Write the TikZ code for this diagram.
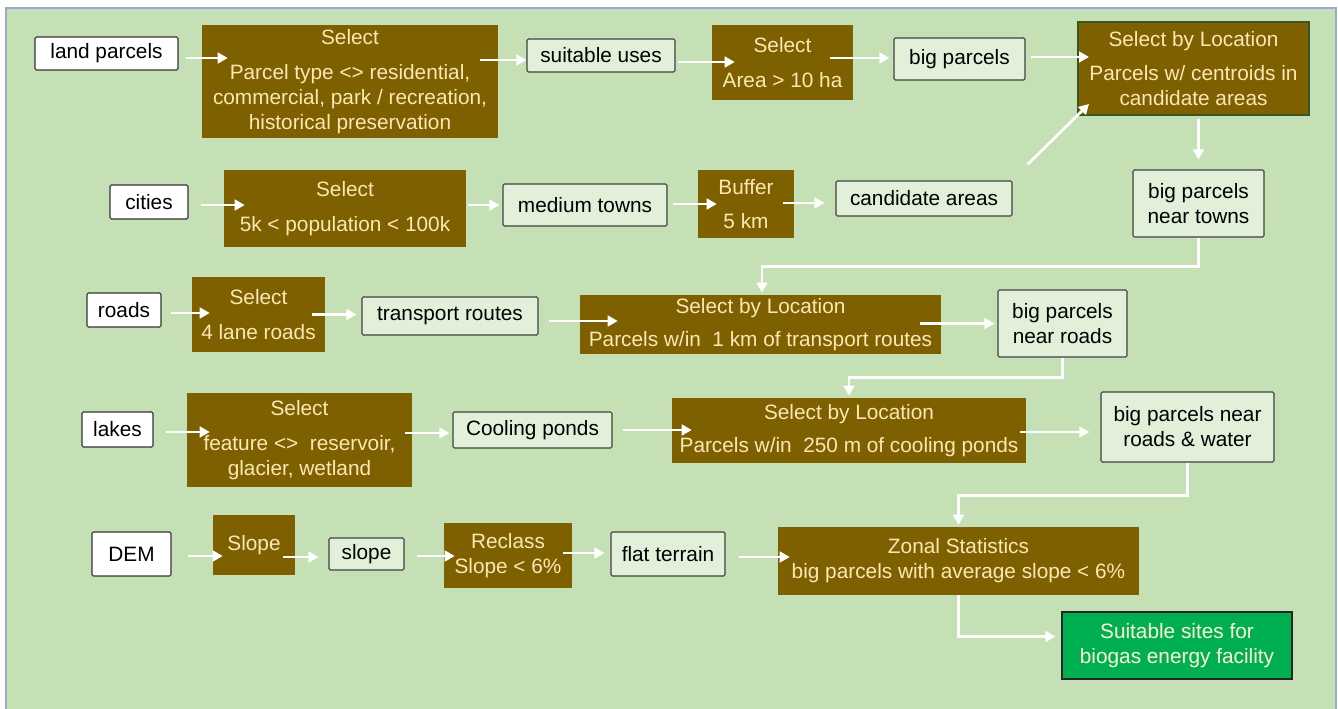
\documentclass[tikz,border=0pt]{standalone}
\usepackage{fontspec}
\setmainfont{Liberation Sans}
\usetikzlibrary{arrows.meta,calc}
\definecolor{bg}{RGB}{197,224,180}
\definecolor{brn}{RGB}{127,96,0}
\definecolor{cream}{RGB}{250,232,180}
\definecolor{lite}{RGB}{226,240,217}
\definecolor{grn}{RGB}{0,176,80}
\definecolor{dkg}{RGB}{55,86,35}
\definecolor{framec}{RGB}{150,172,205}
\newcommand\harr[5]{\draw[arr] ($(#1.east)+(#3,#5)$) -- ($(#2.west |- #1.east)+(#4,#5)$);}
\tikzset{
 wbox/.style={draw=black!80, fill=white, line width=0.8pt, rounded corners=1pt},
 lbox/.style={draw=black!75, fill=lite, line width=0.8pt, rounded corners=1pt},
 bbox/.style={fill=brn, text=cream},
 gbox/.style={draw=black!85, fill=grn, text=cream!50!white, line width=0.8pt},
 arr/.style={draw=white, line width=2pt, -{Triangle[length=7.5pt,width=8pt]}}
}
\begin{document}
\begin{tikzpicture}[x=0.75pt,y=-0.75pt,
 every node/.style={font=\fontsize{15.6}{18.8}\selectfont, inner sep=0pt, align=center}]
\useasboundingbox (0,0) rectangle (1338,709);
\fill[white] (0,0) rectangle (1338,709);
\fill[bg] (6,8) rectangle (1336,712);
\draw[framec, line width=1pt] (6,712) -- (6,8) -- (1336,8) -- (1336,712);

% row 1
\node[wbox, minimum width=107.25pt, minimum height=24.75pt] (lp) at (106.5,53.5) {land parcels};
\node[bbox, minimum width=222pt, minimum height=84.75pt] (s1) at (350,81.5) {Select\\[7pt]Parcel type <> residential,\\commercial, park / recreation,\\historical preservation};
\node[lbox, minimum width=111pt, minimum height=24.75pt] (su) at (601,55.5) {suitable uses};
\node[bbox, minimum width=105.75pt, minimum height=56.25pt] (s2) at (782.5,62.5) {Select\\[7.5pt]Area > 10 ha};
\node[lbox, minimum width=98.25pt, minimum height=31.5pt] (bp) at (959.5,59) {big parcels};
\node[bbox, draw=dkg, line width=1.5pt, minimum width=173.25pt, minimum height=69.75pt] (sbl1) at (1193.5,68.5) {Select by Location\\[7pt]Parcels w/ centroids in\\candidate areas};

% row 2
\node[wbox, minimum width=58.5pt, minimum height=25.5pt] (ci) at (149,202) {cities};
\node[bbox, minimum width=181.5pt, minimum height=57.75pt] (s3) at (345,208.5) {Select\\[7pt]5k < population < 100k};
\node[lbox, minimum width=123pt, minimum height=31.5pt] (mt) at (585,205) {medium towns};
\node[bbox, minimum width=72pt, minimum height=51pt] (bu) at (746,204) {Buffer\\[7pt]5 km};
\node[lbox, minimum width=132pt, minimum height=26.25pt] (ca) at (924,198.5) {candidate areas};
\node[lbox, minimum width=98.25pt, minimum height=50.25pt] (bpt) at (1198.5,203.5) {big parcels\\near towns};

% row 3
\node[wbox, minimum width=55.5pt, minimum height=25.5pt] (ro) at (124,310) {roads};
\node[bbox, minimum width=99.75pt, minimum height=56.25pt] (s4) at (258.5,314.5) {Select\\[7pt]4 lane roads};
\node[lbox, minimum width=132pt, minimum height=28.5pt] (tr) at (450,316) {transport routes};
\node[bbox, minimum width=270.75pt, minimum height=44.25pt] (sbl2) at (760.5,324.5) {Select by Location\\[6pt]Parcels w/in\ \ 1 km of transport routes};
\node[lbox, minimum width=96.75pt, minimum height=50.25pt] (bpr) at (1062.5,323.5) {big parcels\\near roads};

% row 4
\node[wbox, minimum width=53.25pt, minimum height=26.25pt] (la) at (117.5,429.5) {lakes};
\node[bbox, minimum width=168.75pt, minimum height=70.5pt] (s5) at (299.5,440) {Select\\[7pt]feature <>\ \ reservoir,\\glacier, wetland};
\node[lbox, minimum width=119.25pt, minimum height=27pt] (cp) at (532.5,430) {Cooling ponds};
\node[bbox, minimum width=265.5pt, minimum height=48.75pt] (sbl3) at (849,430.5) {Select by Location\\[6pt]Parcels w/in\ \ 250 m of cooling ponds};
\node[lbox, minimum width=129.75pt, minimum height=52.5pt] (bprw) at (1187.5,427) {big parcels near\\roads \& water};

% row 5
\node[wbox, minimum width=59.25pt, minimum height=33pt] (dem) at (131.5,554) {DEM};
\node[bbox, minimum width=61.5pt, minimum height=45pt] (sl) at (254,545) {Slope};
\node[lbox, minimum width=56.25pt, minimum height=24pt] (slo) at (366.5,554) {slope};
\node[bbox, minimum width=96pt, minimum height=48.75pt] (rc) at (508,555.5) {Reclass\\Slope < 6\%};
\node[lbox, minimum width=85.5pt, minimum height=33pt] (ft) at (668,554) {flat terrain};
\node[bbox, minimum width=270.75pt, minimum height=51pt] (zs) at (958.5,561) {Zonal Statistics\\big parcels with average slope < 6\%};
\node[gbox, minimum width=172.5pt, minimum height=50.25pt] (ss) at (1177,645.5) {Suitable sites for\\biogas energy facility};

% arrows row 1
\harr{lp}{s1}{7}{26}{4.5}
\harr{s1}{su}{-18}{0}{-21.5}
\harr{su}{s2}{2}{23}{6.5}
\harr{s2}{bp}{-23}{-4}{-4.5}
\harr{bp}{sbl1}{5}{12}{-2}
% row 2
\harr{ci}{s3}{12}{21}{3}
\harr{s3}{mt}{2}{-3}{-3.5}
\harr{mt}{bu}{5}{19}{-1}
\harr{bu}{ca}{-11}{-11}{-1}
\draw[arr] ($(ca.north east)+(15,-16)$) -- ($(sbl1.south west)+(12,-12)$);
\draw[arr] ($(sbl1.south)+(5,3)$) -- ($(bpt.north)+(0,-10)$);
\draw[arr] (bpt.south) -- ++(0,29) -| ($(sbl2.north)+(1.5,-2)$);
% row 3
\harr{ro}{s4}{9}{18}{3}
\harr{s4}{tr}{-13}{-5}{0}
\harr{tr}{sbl2}{10}{38}{5}
\harr{sbl2}{bpr}{-21}{-3}{-1}
\draw[arr] (bpr.south) -- ++(0,20) -| ($(sbl3.north)+(0,-2)$);
% row 4
\harr{la}{s5}{12}{23}{2.5}
\harr{s5}{cp}{-7}{-3}{-7}
\harr{cp}{sbl3}{10}{20}{0}
\harr{sbl3}{bprw}{-6}{-11}{1.5}
\draw[arr] (bprw.south) -- ++(0,33) -| ($(zs.north)+(0,-2)$);
% row 5
\harr{dem}{sl}{16}{10}{2}
\harr{sl}{slo}{-12}{-10}{12}
\harr{slo}{rc}{12}{11}{2}
\harr{rc}{ft}{-9}{-6}{-2.5}
\harr{ft}{zs}{13}{12}{3}
\draw[arr] (zs.south) |- ($(ss.west)+(-6,-9)$);
\end{tikzpicture}
\end{document}
